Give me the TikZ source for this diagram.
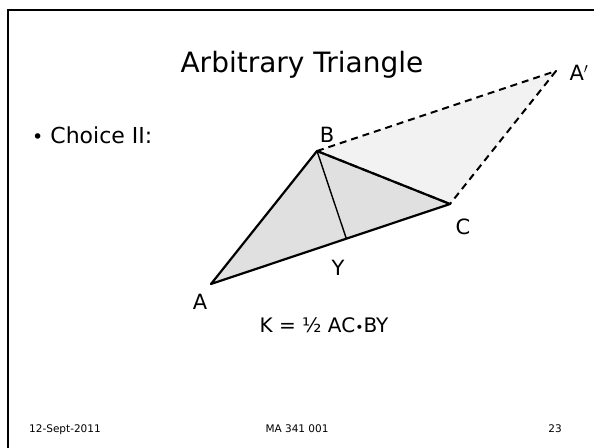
\documentclass[tikz,border=0pt]{standalone}
\usepackage{fontspec}
\setmainfont{DejaVu Sans}
\usetikzlibrary{calc}

\begin{document}
\begin{tikzpicture}[
  x=1pt, y=-1pt,
  title/.style  = {inner sep=0pt, font=\fontsize{28}{32}\selectfont},
  body/.style   = {inner sep=0pt, font=\fontsize{22}{26}\selectfont},
  lbl/.style    = {inner sep=0pt, font=\fontsize{21}{24}\selectfont},
  foot/.style   = {inner sep=0pt, font=\fontsize{10.5}{12}\selectfont},
  side/.style   = {black, line width=2.2pt, line join=round},
  alt/.style    = {black, line width=1.4pt},
  dashside/.style = {black, line width=2pt, dash pattern=on 7pt off 5pt, line join=round}
]
\useasboundingbox (0,0) rectangle (594,447);

% slide frame
\draw[line width=2.4pt] (8,460) |- (610,10);

% points of the triangle
\coordinate (A) at (211,284);
\coordinate (B) at (317,151);
\coordinate (C) at (450,204);
\coordinate (Ap) at ($(B)+(C)-(A)$);
\coordinate (Y) at ($(A)!(B)!(C)$);

\fill[black!5]  (B) -- (Ap) -- (C) -- cycle;
\fill[black!12] (A) -- (B) -- (C) -- cycle;

\draw[side] (A) -- (B) -- (C) -- cycle;
\draw[alt] (B) -- (Y);
\draw[dashside] (B) -- (Ap) -- (C);
\draw[dashside] (B) -- (C);

% labels
\node[lbl] (lA)  at (200,302) {A};
\node[lbl] (lB)  at (327,135) {B};
\node[lbl] (lC)  at (463,227) {C};
\node[lbl] (lY)  at (338,268) {Y};
\node[lbl] (lAp) at (579,73)  {A$'$};

% text
\node[title] (head) at (302,65) {Arbitrary Triangle};
\node[body, anchor=base west] (choice) at (32,143) {{\fontsize{19}{22}\selectfont•}\hspace{7pt}Choice II:};
\node[body, anchor=base, font=\fontsize{20}{24}\selectfont] (area) at (324,332) {K = ½ AC{\fontsize{14}{16}\selectfont•}BY};

% footer
\node[foot, anchor=base west] (date)  at (29,432)  {12-Sept-2011};
\node[foot, anchor=base]      (cname) at (297,432) {MA 341 001};
\node[foot, anchor=base east] (page)  at (562,432) {23};
\end{tikzpicture}
\end{document}
